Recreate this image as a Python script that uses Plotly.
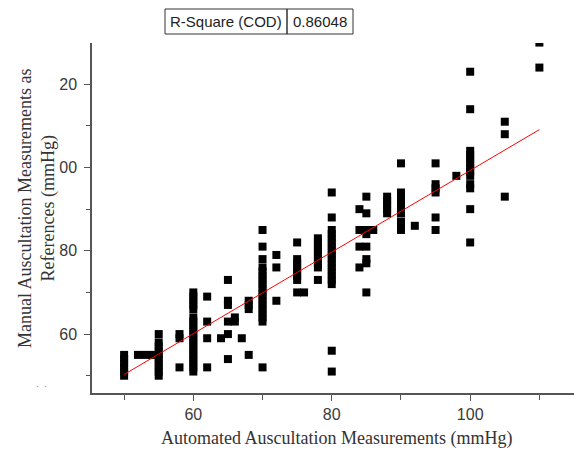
import plotly.graph_objects as go

# ---------------- data ----------------
automated = (
    [50] * 6
    + [52, 53, 54]
    + [55] * 10
    + [58] * 3
    + [60] * 19
    + [62] * 4
    + [64]
    + [65] * 6
    + [66] * 2
    + [67]
    + [68] * 4
    + [70] * 18
    + [72] * 3
    + [75] * 8
    + [76]
    + [78] * 9
    + [80] * 18
    + [84] * 4
    + [85] * 8
    + [86]
    + [88] * 5
    + [90] * 10
    + [92]
    + [95] * 6
    + [98]
    + [100] * 13
    + [105] * 3
    + [110] * 2
)
manual = (
    [50, 51, 52, 53, 54, 55]
    + [55, 55, 55]
    + [60, 58, 57, 56, 55, 54, 53, 52, 51, 50]
    + [60, 59, 52]
    + [70, 69, 68, 67, 66, 64, 63, 62, 61, 60, 59, 58, 57, 56, 55, 54, 53, 52, 51]
    + [69, 63, 59, 52]
    + [59]
    + [73, 68, 67, 63, 60, 54]
    + [64, 63]
    + [59]
    + [68, 67, 66, 55]
    + [85, 81, 78, 76, 75, 74, 73, 72, 71, 70, 69, 68, 67, 66, 65, 64, 63, 52]
    + [79, 76, 68]
    + [82, 78, 77, 76, 75, 74, 73, 70]
    + [70]
    + [83, 82, 81, 80, 79, 78, 77, 76, 73]
    + [94, 88, 85, 84, 83, 82, 81, 80, 79, 78, 77, 76, 75, 74, 73, 72, 56, 51]
    + [90, 85, 81, 76]
    + [93, 89, 85, 84, 81, 78, 77, 70]
    + [85]
    + [93, 92, 91, 90, 89]
    + [101, 94, 93, 92, 91, 90, 89, 87, 86, 85]
    + [86]
    + [101, 96, 95, 94, 88, 85]
    + [98]
    + [123, 114, 104, 103, 102, 101, 100, 99, 98, 96, 95, 90, 82]
    + [111, 108, 93]
    + [130, 124]
)

# linear fit line as drawn in the reference (end points)
fit_x = [50, 110]
fit_y = [50.3, 109.1]

x_tick_values = [60, 80, 100]
x_tick_labels = ["60", "80", "100"]
x_minor_values = [50, 70, 90, 110]
y_tick_values = [60, 80, 100, 120]
y_tick_labels = ["60", "80", "00", "20"]
y_minor_values = [50, 70, 90, 110]

r_square_label = "R-Square (COD)"
r_square_value = "0.86048"

x_title = "Automated Auscultation Measurements (mmHg)"
y_title = "Manual Auscultation Measurements as<br>References (mmHg)"

# ---------------- figure ----------------
W, H = 574, 450
L, R, T, B = 92, 0, 43, 57
PW, PH = W - L - R, H - T - B


def px2x(px):
    return (px - L) / PW


def py2y(py):
    return (H - B - py) / PH


fig = go.Figure()
fig.add_trace(go.Scatter(
    x=automated, y=manual, mode="markers",
    marker=dict(symbol="square", size=8, color="black", line=dict(width=0)),
    showlegend=False, hoverinfo="x+y",
))
fig.add_trace(go.Scatter(
    x=fit_x, y=fit_y, mode="lines",
    line=dict(color="#ff0000", width=1),
    showlegend=False, hoverinfo="skip",
))

axis_color = "#555555"
tick_font = dict(family="Liberation Sans, Arial", size=16, color="#3a3a3a")

fig.update_xaxes(
    range=[45.36, 115.0], showgrid=False, zeroline=False,
    showline=True, linecolor=axis_color, linewidth=1.5,
    ticks="outside", ticklen=6, tickwidth=1.2, tickcolor=axis_color,
    tickvals=x_tick_values, ticktext=x_tick_labels, tickfont=tick_font,
    minor=dict(tickvals=x_minor_values, ticks="outside", ticklen=5,
               tickwidth=1.2, tickcolor=axis_color, showgrid=False),
)
fig.update_yaxes(
    range=[45.85, 129.9], showgrid=False, zeroline=False,
    showline=True, linecolor=axis_color, linewidth=1.5,
    ticks="outside", ticklen=6, tickwidth=1.2, tickcolor=axis_color,
    tickvals=y_tick_values, ticktext=y_tick_labels, tickfont=tick_font,
    ticklabelstandoff=4,
    minor=dict(tickvals=y_minor_values, ticks="outside", ticklen=4,
               tickwidth=1.2, tickcolor=axis_color, showgrid=False),
)

title_font = dict(family="Liberation Serif, Times New Roman", size=18, color="#333333")
annotations = [
    dict(text=x_title, x=px2x(336), y=py2y(438), xref="paper", yref="paper",
         xanchor="center", yanchor="middle", showarrow=False, font=title_font),
    dict(text=y_title, x=px2x(37), y=py2y(209), xref="paper", yref="paper",
         xanchor="center", yanchor="middle", showarrow=False, textangle=-90,
         font=title_font),
    dict(text=r_square_label, x=px2x(226), y=py2y(21.5), xref="paper", yref="paper",
         xanchor="center", yanchor="middle", showarrow=False,
         font=dict(family="Liberation Sans, Arial", size=15, color="#222222")),
    dict(text=r_square_value, x=px2x(320), y=py2y(21.5), xref="paper", yref="paper",
         xanchor="center", yanchor="middle", showarrow=False,
         font=dict(family="Liberation Sans, Arial", size=15, color="#222222")),
    dict(text="·  ·", x=px2x(41), y=py2y(386), xref="paper", yref="paper",
         xanchor="center", yanchor="middle", showarrow=False,
         font=dict(family="Liberation Sans, Arial", size=9, color="#777777")),
]

shapes = [
    dict(type="rect", xref="paper", yref="paper",
         x0=px2x(165), x1=px2x(287), y0=py2y(34), y1=py2y(9),
         line=dict(color="#333333", width=1)),
    dict(type="rect", xref="paper", yref="paper",
         x0=px2x(287), x1=px2x(353), y0=py2y(34), y1=py2y(9),
         line=dict(color="#333333", width=1)),
]

fig.update_layout(
    width=W, height=H, margin=dict(l=L, r=R, t=T, b=B, autoexpand=False),
    paper_bgcolor="white", plot_bgcolor="white",
    annotations=annotations, shapes=shapes,
)

fig.write_html(
    "out.html",
    config={"displayModeBar": False},
    post_script="document.body.style.margin='0';document.body.style.padding='0';",
)
